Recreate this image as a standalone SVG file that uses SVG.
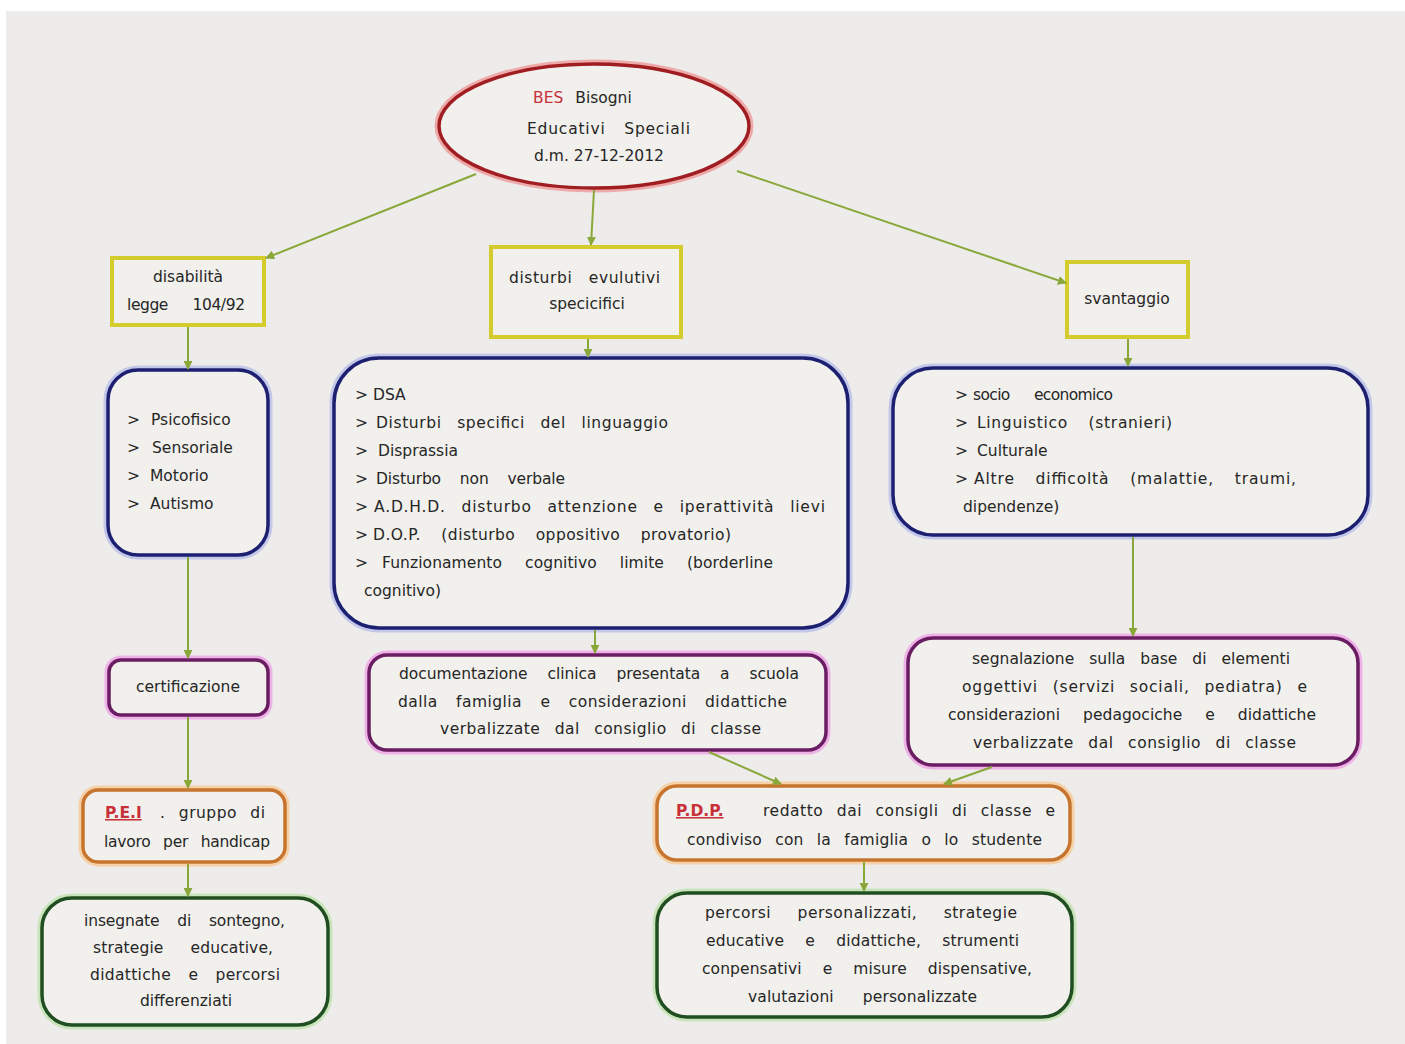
<svg xmlns="http://www.w3.org/2000/svg" width="1405" height="1044" viewBox="0 0 1405 1044">
<defs>
<marker id="ah" viewBox="0 0 10 10" refX="9" refY="5" markerWidth="9" markerHeight="9" orient="auto" markerUnits="userSpaceOnUse">
<path d="M0,0 L10,5 L0,10 z" fill="#8aa83a"/>
</marker>
<style>
text{font-family:"DejaVu Sans","Liberation Sans",sans-serif;font-size:15.5px;fill:#262626}
.c{text-anchor:middle}
.red{fill:#c8313a}
.ul{text-decoration:underline}
.halo{fill:none;stroke-width:9}
.yel{fill:#f1f0ec;stroke:#d4cc2c;stroke-width:4}
.blu{fill:#f1f0ec;stroke:#1d2070;stroke-width:3.5}
.blu-h{stroke:#c3c8ea}
.pur{fill:#f1f0ec;stroke:#6a1d63;stroke-width:3.5}
.pur-h{stroke:#eeb2e6}
.ora{fill:#f1f0ec;stroke:#c6742e;stroke-width:3.5}
.ora-h{stroke:#f6d0a6}
.grn{fill:#f1f0ec;stroke:#204e21;stroke-width:3.5}
.grn-h{stroke:#c9e4bb}
.conn line{stroke:#8aa83a;stroke-width:2;marker-end:url(#ah)}
</style>
</defs>
<rect x="0" y="0" width="1405" height="1044" fill="#ffffff"/>
<rect x="6" y="11" width="1399" height="1033" fill="#edecea"/>

<g id="bes">
<ellipse cx="594" cy="126" rx="155" ry="62" fill="none" stroke="#eeaaa8" stroke-width="9"/>
<ellipse cx="594" cy="126" rx="155" ry="62" fill="#f1f0ec" stroke="#a01e22" stroke-width="3.5"/>
<text x="533" y="103" font-size="16.5"><tspan class="red">BES</tspan><tspan dx="12">Bisogni</tspan></text>
<text x="527" y="134" font-size="16.5" word-spacing="13" textLength="163" lengthAdjust="spacing">Educativi Speciali</text>
<text x="599" y="161" class="c" font-size="12.5">d.m. 27-12-2012</text>
</g>

<g id="disabilita">
<rect class="yel" x="112" y="258" width="152" height="67"/>
<text x="188" y="282" class="c">disabilità</text>
<text x="127" y="310" word-spacing="20" textLength="118" lengthAdjust="spacing">legge 104/92</text>
</g>

<g id="disturbi">
<rect class="yel" x="491" y="247" width="190" height="90"/>
<text x="509" y="283" word-spacing="11" textLength="151" lengthAdjust="spacing">disturbi evulutivi</text>
<text x="587" y="309" class="c">specicifici</text>
</g>

<g id="svantaggio">
<rect class="yel" x="1067" y="262" width="121" height="75"/>
<text x="1127" y="304" class="c">svantaggio</text>
</g>

<g id="lista-disabilita">
<rect class="halo blu-h" x="108" y="370" width="160" height="185" rx="30"/>
<rect class="blu" x="108" y="370" width="160" height="185" rx="30"/>
<text x="127" y="425">&gt;<tspan x="151">Psicofisico</tspan></text>
<text x="127" y="453">&gt;<tspan x="152">Sensoriale</tspan></text>
<text x="127" y="481">&gt;<tspan x="150">Motorio</tspan></text>
<text x="127" y="509">&gt;<tspan x="150">Autismo</tspan></text>
</g>

<g id="lista-dsa">
<rect class="halo blu-h" x="334" y="358" width="514" height="270" rx="45"/>
<rect class="blu" x="334" y="358" width="514" height="270" rx="45"/>
<text x="355" y="400">&gt;<tspan x="373">DSA</tspan></text>
<text x="355" y="428">&gt;<tspan x="376" word-spacing="10" textLength="292" lengthAdjust="spacing">Disturbi specifici del linguaggio</tspan></text>
<text x="355" y="456">&gt;<tspan x="378">Disprassia</tspan></text>
<text x="355" y="484">&gt;<tspan x="376" word-spacing="14" textLength="189" lengthAdjust="spacing">Disturbo non verbale</tspan></text>
<text x="355" y="512">&gt;<tspan x="374" word-spacing="10" textLength="451" lengthAdjust="spacing">A.D.H.D. disturbo attenzione e iperattività lievi</tspan></text>
<text x="355" y="540">&gt;<tspan x="373" word-spacing="15" textLength="358" lengthAdjust="spacing">D.O.P. (disturbo oppositivo provatorio)</tspan></text>
<text x="355" y="568">&gt;<tspan x="382" word-spacing="18" textLength="391" lengthAdjust="spacing">Funzionamento cognitivo limite (borderline</tspan></text>
<text x="364" y="596">cognitivo)</text>
</g>

<g id="lista-svantaggio">
<rect class="halo blu-h" x="893" y="368" width="475" height="167" rx="40"/>
<rect class="blu" x="893" y="368" width="475" height="167" rx="40"/>
<text x="955" y="400">&gt;<tspan x="973" word-spacing="20" textLength="140" lengthAdjust="spacing">socio economico</tspan></text>
<text x="955" y="428">&gt;<tspan x="977" word-spacing="15" textLength="195" lengthAdjust="spacing">Linguistico (stranieri)</tspan></text>
<text x="955" y="456">&gt;<tspan x="977">Culturale</tspan></text>
<text x="955" y="484">&gt;<tspan x="974" word-spacing="15" textLength="322" lengthAdjust="spacing">Altre difficoltà (malattie, traumi,</tspan></text>
<text x="963" y="512">dipendenze)</text>
</g>

<g id="certificazione">
<rect class="halo pur-h" x="109" y="660" width="159" height="55" rx="12"/>
<rect class="pur" x="109" y="660" width="159" height="55" rx="12"/>
<text x="188" y="692" class="c">certificazione</text>
</g>

<g id="documentazione">
<rect class="halo pur-h" x="369" y="655" width="457" height="95" rx="18"/>
<rect class="pur" x="369" y="655" width="457" height="95" rx="18"/>
<text x="399" y="679" word-spacing="15" textLength="400" lengthAdjust="spacing">documentazione clinica presentata a scuola</text>
<text x="398" y="707" word-spacing="13" textLength="389" lengthAdjust="spacing">dalla famiglia e considerazioni didattiche</text>
<text x="440" y="734" word-spacing="9" textLength="321" lengthAdjust="spacing">verbalizzate dal consiglio di classe</text>
</g>

<g id="segnalazione">
<rect class="halo pur-h" x="908" y="638" width="450" height="127" rx="25"/>
<rect class="pur" x="908" y="638" width="450" height="127" rx="25"/>
<text x="972" y="664" word-spacing="10" textLength="318" lengthAdjust="spacing">segnalazione sulla base di elementi</text>
<text x="962" y="692" word-spacing="9" textLength="345" lengthAdjust="spacing">oggettivi (servizi sociali, pediatra) e</text>
<text x="948" y="720" word-spacing="18" textLength="368" lengthAdjust="spacing">considerazioni pedagociche e didattiche</text>
<text x="973" y="748" word-spacing="9" textLength="323" lengthAdjust="spacing">verbalizzate dal consiglio di classe</text>
</g>

<g id="pei">
<rect class="halo ora-h" x="83" y="790" width="202" height="72" rx="15"/>
<rect class="ora" x="83" y="790" width="202" height="72" rx="15"/>
<text x="105" y="818"><tspan class="red ul" font-weight="bold">P.E.I</tspan><tspan x="160" word-spacing="8" textLength="105" lengthAdjust="spacing">. gruppo di</tspan></text>
<text x="104" y="847" word-spacing="8" textLength="166" lengthAdjust="spacing">lavoro per handicap</text>
</g>

<g id="sostegno">
<rect class="halo grn-h" x="42" y="898" width="286" height="127" rx="30"/>
<rect class="grn" x="42" y="898" width="286" height="127" rx="30"/>
<text x="84" y="926" word-spacing="13" textLength="201" lengthAdjust="spacing">insegnate di sontegno,</text>
<text x="93" y="953" word-spacing="22" textLength="180" lengthAdjust="spacing">strategie educative,</text>
<text x="90" y="980" word-spacing="12" textLength="190" lengthAdjust="spacing">didattiche e percorsi</text>
<text x="186" y="1006" class="c">differenziati</text>
</g>

<g id="pdp">
<rect class="halo ora-h" x="657" y="786" width="413" height="74" rx="20"/>
<rect class="ora" x="657" y="786" width="413" height="74" rx="20"/>
<text x="676" y="816"><tspan class="red ul" font-weight="bold">P.D.P.</tspan><tspan x="763" word-spacing="8" textLength="292" lengthAdjust="spacing">redatto dai consigli di classe e</tspan></text>
<text x="687" y="845" word-spacing="8" textLength="355" lengthAdjust="spacing">condiviso con la famiglia o lo studente</text>
</g>

<g id="percorsi">
<rect class="halo grn-h" x="657" y="893" width="415" height="124" rx="30"/>
<rect class="grn" x="657" y="893" width="415" height="124" rx="30"/>
<text x="705" y="918" word-spacing="21" textLength="312" lengthAdjust="spacing">percorsi personalizzati, strategie</text>
<text x="706" y="946" word-spacing="16" textLength="313" lengthAdjust="spacing">educative e didattiche, strumenti</text>
<text x="702" y="974" word-spacing="16" textLength="330" lengthAdjust="spacing">conpensativi e misure dispensative,</text>
<text x="748" y="1002" word-spacing="24" textLength="229" lengthAdjust="spacing">valutazioni personalizzate</text>
</g>

<g id="connectors" class="conn">
<line x1="476" y1="174" x2="266" y2="258"/>
<line x1="594" y1="190" x2="591" y2="245"/>
<line x1="737" y1="171" x2="1066" y2="283"/>
<line x1="188" y1="327" x2="188" y2="369"/>
<line x1="588" y1="339" x2="588" y2="357"/>
<line x1="1128" y1="339" x2="1128" y2="366"/>
<line x1="188" y1="557" x2="188" y2="658"/>
<line x1="595" y1="630" x2="595" y2="653"/>
<line x1="1133" y1="537" x2="1133" y2="636"/>
<line x1="188" y1="717" x2="188" y2="788"/>
<line x1="709" y1="752" x2="781" y2="784"/>
<line x1="992" y1="767" x2="944" y2="784"/>
<line x1="188" y1="864" x2="188" y2="896"/>
<line x1="864" y1="862" x2="864" y2="891"/>
</g>
</svg>
